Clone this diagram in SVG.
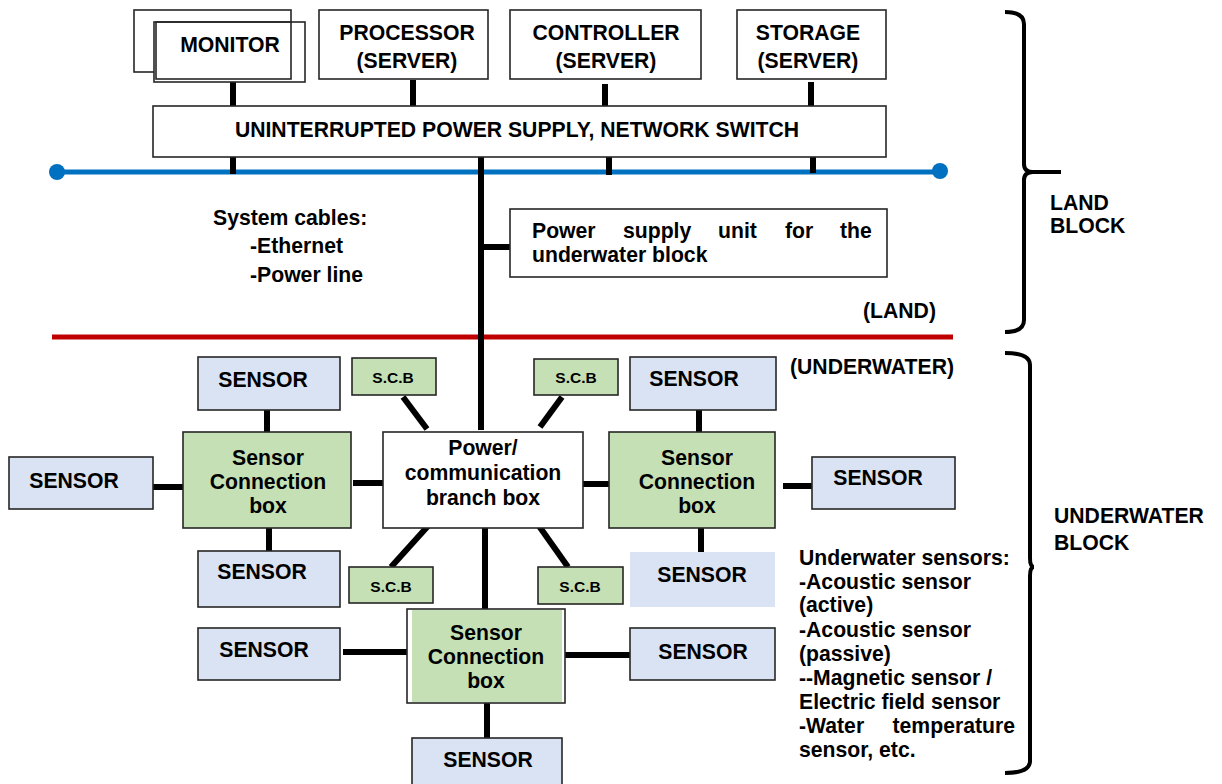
<svg xmlns="http://www.w3.org/2000/svg" width="1222" height="784" viewBox="0 0 1222 784">
  <style>
    text { font-family: "Liberation Sans", Arial, sans-serif; font-weight: bold; fill: #000; }
    .t { font-size: 21.2px; }
    .c { text-anchor: middle; }
    .s { font-size: 15.5px; text-anchor: middle; }
    .box { fill: #fff; stroke: #262626; stroke-width: 1.6; }
    .sensor { fill: #DAE3F3; stroke: #262626; stroke-width: 1.6; }
    .scb { fill: #C5E0B4; stroke: #262626; stroke-width: 1.6; }
    .link { stroke: #000; stroke-width: 6; fill: none; }
    .brace { stroke: #000; stroke-width: 4; fill: none; }
  </style>
  <rect width="1222" height="784" fill="#fff"/>

  <!-- cables: land bus, sea line -->
  <g id="cables">
    <line x1="57" y1="172" x2="940" y2="172" stroke="#0070C0" stroke-width="5"/>
    <circle cx="57" cy="172" r="8" fill="#0070C0"/>
    <circle cx="940" cy="171" r="8" fill="#0070C0"/>
    <line x1="52" y1="337" x2="953" y2="337" stroke="#C00000" stroke-width="5"/>
  </g>

  <!-- connectors -->
  <g id="connectors">
    <line class="link" x1="233" y1="82" x2="233" y2="106"/>
    <line class="link" x1="413" y1="80" x2="413" y2="106"/>
    <line class="link" x1="605" y1="84" x2="605" y2="108"/>
    <line class="link" x1="811" y1="82" x2="811" y2="106"/>
    <line class="link" x1="233" y1="150" x2="233" y2="174"/>
    <line class="link" x1="609" y1="152" x2="609" y2="175"/>
    <line class="link" x1="813" y1="150" x2="813" y2="173"/>
    <line class="link" x1="481" y1="150" x2="481" y2="430"/>
    <line class="link" x1="481" y1="247" x2="510" y2="247"/>
    <!-- branch box links -->
    <line class="link" x1="485" y1="528" x2="485" y2="609"/>
    <line class="link" x1="353" y1="483" x2="385" y2="483"/>
    <line class="link" x1="583" y1="484" x2="615" y2="484"/>
    <line class="link" x1="403" y1="397" x2="427" y2="429"/>
    <line class="link" x1="562" y1="397" x2="540" y2="427"/>
    <line class="link" x1="428" y1="526" x2="391" y2="567"/>
    <line class="link" x1="539" y1="526" x2="568" y2="567"/>
    <!-- left sensor box links -->
    <line class="link" x1="267" y1="410" x2="267" y2="432"/>
    <line class="link" x1="153" y1="487" x2="183" y2="487"/>
    <line class="link" x1="269" y1="528" x2="269" y2="551"/>
    <!-- right sensor box links -->
    <line class="link" x1="699" y1="410" x2="699" y2="432"/>
    <line class="link" x1="783" y1="486" x2="812" y2="486"/>
    <line class="link" x1="701" y1="528" x2="701" y2="552"/>
    <!-- bottom sensor box links -->
    <line class="link" x1="343" y1="652" x2="409" y2="652"/>
    <line class="link" x1="565" y1="655" x2="630" y2="655"/>
    <line class="link" x1="487" y1="703" x2="487" y2="738"/>
  </g>

  <!-- land block -->
  <g id="monitor">
    <rect class="box" x="134" y="10" width="157" height="62"/>
    <rect class="box" x="154" y="22" width="151" height="60"/>
    <rect x="156" y="22" width="135" height="57" fill="none" stroke="#262626" stroke-width="1.6"/>
    <text class="t c" x="230" y="52">MONITOR</text>
  </g>
  <g id="processor">
    <rect class="box" x="319" y="10" width="169" height="69"/>
    <text class="t c" x="407" y="40">PROCESSOR</text>
    <text class="t c" x="407" y="68">(SERVER)</text>
  </g>
  <g id="controller">
    <rect class="box" x="510" y="10" width="191" height="69"/>
    <text class="t c" x="606" y="40">CONTROLLER</text>
    <text class="t c" x="606" y="68">(SERVER)</text>
  </g>
  <g id="storage">
    <rect class="box" x="737" y="10" width="149" height="69"/>
    <text class="t c" x="808" y="40">STORAGE</text>
    <text class="t c" x="808" y="68">(SERVER)</text>
  </g>
  <g id="ups-switch">
    <rect class="box" x="153" y="106" width="733" height="51"/>
    <text class="t c" x="517" y="137">UNINTERRUPTED POWER SUPPLY, NETWORK SWITCH</text>
  </g>
  <g id="power-unit">
    <rect class="box" x="510" y="209" width="377" height="68"/>
    <text class="t" y="238"><tspan x="532">Power</tspan><tspan x="623">supply</tspan><tspan x="718">unit</tspan><tspan x="785">for</tspan><tspan x="840">the</tspan></text>
    <text class="t" x="532" y="262">underwater block</text>
  </g>
  <g id="cable-note">
    <text class="t" x="213" y="225">System cables:</text>
    <text class="t" x="250" y="253">-Ethernet</text>
    <text class="t" x="250" y="282">-Power line</text>
  </g>
  <text class="t" x="863" y="318">(LAND)</text>
  <text class="t" x="790" y="374">(UNDERWATER)</text>

  <!-- underwater block -->
  <g id="branch-box">
    <rect class="box" x="383" y="432" width="200" height="96"/>
    <text class="t c" x="483" y="455">Power/</text>
    <text class="t c" x="483" y="480">communication</text>
    <text class="t c" x="483" y="505">branch box</text>
  </g>
  <g id="scb-tl">
    <rect class="scb" x="352" y="358" width="84" height="37"/>
    <text class="s" x="393" y="383">S.C.B</text>
  </g>
  <g id="scb-tr">
    <rect class="scb" x="534" y="359" width="84" height="36"/>
    <text class="s" x="576" y="383">S.C.B</text>
  </g>
  <g id="scb-bl">
    <rect class="scb" x="349" y="567" width="84" height="36"/>
    <text class="s" x="391" y="592">S.C.B</text>
  </g>
  <g id="scb-br">
    <rect class="scb" x="538" y="567" width="85" height="37"/>
    <text class="s" x="580" y="592">S.C.B</text>
  </g>

  <g id="conn-box-left">
    <rect class="scb" x="183" y="432" width="168" height="96"/>
    <text class="t c" x="268" y="465">Sensor</text>
    <text class="t c" x="268" y="489">Connection</text>
    <text class="t c" x="268" y="513">box</text>
  </g>
  <g id="sensor-l-top">
    <rect class="sensor" x="198" y="357" width="142" height="53"/>
    <text class="t c" x="263" y="387">SENSOR</text>
  </g>
  <g id="sensor-l-left">
    <rect class="sensor" x="9" y="457" width="144" height="52"/>
    <text class="t c" x="74" y="488">SENSOR</text>
  </g>
  <g id="sensor-l-bottom">
    <rect class="sensor" x="198" y="551" width="142" height="56"/>
    <text class="t c" x="262" y="579">SENSOR</text>
  </g>

  <g id="conn-box-right">
    <rect class="scb" x="609" y="432" width="166" height="96"/>
    <text class="t c" x="697" y="465">Sensor</text>
    <text class="t c" x="697" y="489">Connection</text>
    <text class="t c" x="697" y="513">box</text>
  </g>
  <g id="sensor-r-top">
    <rect class="sensor" x="630" y="357" width="146" height="53"/>
    <text class="t c" x="694" y="386">SENSOR</text>
  </g>
  <g id="sensor-r-right">
    <rect class="sensor" x="812" y="457" width="143" height="52"/>
    <text class="t c" x="878" y="485">SENSOR</text>
  </g>
  <g id="sensor-r-bottom">
    <rect x="630" y="552" width="145" height="55" fill="#DAE3F3"/>
    <text class="t c" x="702" y="582">SENSOR</text>
  </g>

  <g id="conn-box-bottom">
    <rect class="box" x="407" y="609" width="158" height="94"/>
    <rect x="412" y="610" width="150" height="92" fill="#C5E0B4"/>
    <text class="t c" x="486" y="640">Sensor</text>
    <text class="t c" x="486" y="664">Connection</text>
    <text class="t c" x="486" y="688">box</text>
  </g>
  <g id="sensor-b-left">
    <rect class="sensor" x="198" y="628" width="142" height="52"/>
    <text class="t c" x="264" y="657">SENSOR</text>
  </g>
  <g id="sensor-b-right">
    <rect class="sensor" x="630" y="628" width="145" height="52"/>
    <text class="t c" x="703" y="659">SENSOR</text>
  </g>
  <g id="sensor-b-bottom">
    <rect class="sensor" x="412" y="738" width="150" height="48"/>
    <text class="t c" x="488" y="767">SENSOR</text>
  </g>

  <g id="sensor-note">
    <text class="t" x="799" y="565">Underwater sensors:</text>
    <text class="t" x="799" y="589">-Acoustic sensor</text>
    <text class="t" x="799" y="612">(active)</text>
    <text class="t" x="799" y="637">-Acoustic sensor</text>
    <text class="t" x="799" y="661">(passive)</text>
    <text class="t" x="799" y="685">--Magnetic sensor /</text>
    <text class="t" x="799" y="709">Electric field sensor</text>
    <text class="t" x="799" y="733">-Water</text>
    <text class="t" x="1015" y="733" text-anchor="end">temperature</text>
    <text class="t" x="799" y="757">sensor, etc.</text>
  </g>

  <!-- block braces -->
  <g id="land-brace">
    <path class="brace" d="M1005,12 Q1024,12 1024,24 V164 Q1024,172 1033,172 H1061 M1033,172 Q1024,172 1024,180 V320 Q1024,332 1005,332"/>
    <text class="t" x="1050" y="210">LAND</text>
    <text class="t" x="1050" y="233">BLOCK</text>
  </g>
  <g id="underwater-brace">
    <path class="brace" d="M1005,353 Q1030,353 1030,365 V558 Q1030,567 1034,567 Q1030,567 1030,576 V761 Q1030,773 1005,773"/>
    <text class="t" x="1054" y="523">UNDERWATER</text>
    <text class="t" x="1054" y="550">BLOCK</text>
  </g>
</svg>
